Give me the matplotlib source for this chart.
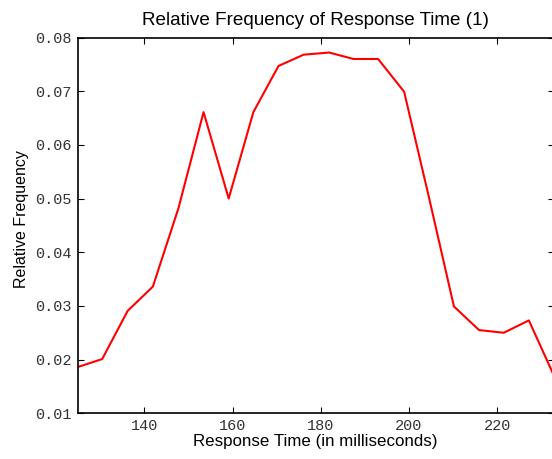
import matplotlib
matplotlib.use("Agg")
import matplotlib.pyplot as plt

response_time = [124.8, 130.4, 136.2, 141.9, 147.7, 153.4, 159.1, 164.7, 170.4, 176.1,
                 181.9, 187.4, 193.0, 198.9, 204.4, 210.2, 215.9, 221.5, 227.2, 232.9]
rel_freq = [0.0186, 0.0201, 0.0291, 0.0336, 0.0482, 0.0661, 0.0500, 0.0661, 0.0747, 0.0768,
            0.0772, 0.0760, 0.0760, 0.0699, 0.0507, 0.0299, 0.0255, 0.0250, 0.0273, 0.0170]
x_ticks = [140, 160, 180, 200, 220]
y_ticks = [0.01, 0.02, 0.03, 0.04, 0.05, 0.06, 0.07, 0.08]

fig = plt.figure(figsize=(5.52, 4.59), dpi=100)
ax = fig.add_axes([0.1404, 0.0996, 1.0036 - 0.1404, 0.9183 - 0.0996])
ax.plot(response_time, rel_freq, color="#ff0000", linewidth=1.5)
ax.set_xlim(response_time[0], response_time[-1])
ax.set_ylim(0.01, 0.08)
ax.set_xticks(x_ticks)
ax.set_yticks(y_ticks)
ax.set_xticklabels([str(t) for t in x_ticks])
ax.set_yticklabels([f"{t:.2f}" for t in y_ticks])
ax.tick_params(direction="in", length=4, width=0.8, top=True, right=True, pad=4)
for lab in ax.get_xticklabels() + ax.get_yticklabels():
    lab.set_family("Liberation Mono")
    lab.set_fontsize(11)
    lab.set_color("#333333")
for s in ax.spines.values():
    s.set_linewidth(1.2)
ax.set_title("Relative Frequency of Response Time (1)", family="Liberation Sans", fontsize=13.6, pad=9)
ax.set_xlabel("Response Time (in milliseconds)", family="Liberation Sans", fontsize=12.2, labelpad=1)
ax.set_ylabel("Relative Frequency", family="Liberation Sans", fontsize=11.5)
ax.yaxis.set_label_coords(-0.101, 0.517)
fig.savefig("out.png", dpi=100)
